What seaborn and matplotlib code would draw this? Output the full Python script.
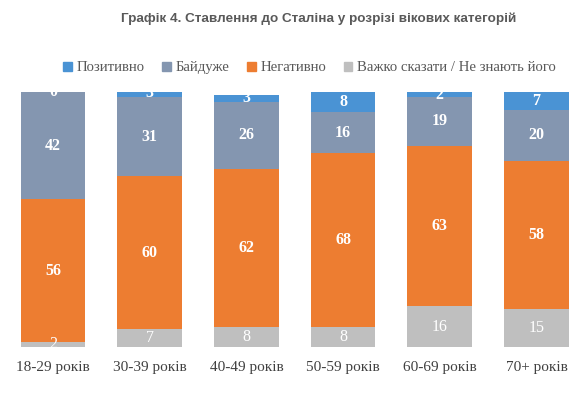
import matplotlib.pyplot as plt
import matplotlib.patches as mpatches
import numpy as np
import pandas as pd
import seaborn as sns

ages = ['18-29 років', '30-39 років', '40-49 років', '50-59 років', '60-69 років', '70+ років']
hard_to_say = [2, 7, 8, 8, 16, 15]
negative = [56, 60, 62, 68, 63, 58]
indifferent = [42, 31, 26, 16, 19, 20]
positive = [0, 3, 3, 8, 2, 7]

series_names = ['Важко сказати / Не знають його', 'Негативно', 'Байдуже', 'Позитивно']
series_vals = [hard_to_say, negative, indifferent, positive]
colors = ['#bfbfbf', '#ed7d31', '#8496b0', '#4a93d4']

sns.set_theme(style='white')
plt.rcParams['font.family'] = ['Liberation Serif', 'DejaVu Serif']

fig = plt.figure(figsize=[5.86, 3.97], dpi=100)
ax = fig.add_axes([0.008, 0.126, 0.99, 0.642])

bottom = np.zeros(len(ages))
for name, vals, col in zip(series_names, series_vals, colors):
    df = pd.DataFrame({'age': ages, 'value': vals})
    sns.barplot(data=df, x='age', y='value', order=ages, color=col, width=0.67,
                saturation=1, bottom=bottom.copy(), linewidth=0, ax=ax)
    bold = name != series_names[0]
    mids = bottom + np.array(vals) / 2
    for i, v in enumerate(vals):
        t = ax.text(i, mids[i], str(v), ha='center', va='center', color='white',
                    fontsize=11.5, fontweight='bold' if bold else 'normal')
        t.set_clip_path(ax.patch)
    bottom += np.array(vals)

ax.set_ylim(0, 100)
ax.set_xlim(-0.5, len(ages) - 0.5)
ax.set_ylabel('')
ax.set_xlabel('')
ax.set_yticks([])
ax.tick_params(axis='x', length=0, pad=10, labelsize=11, labelcolor='#404040')
sns.despine(ax=ax, left=True, bottom=True)

handles = [mpatches.Patch(color=c, label=n) for n, c in zip(series_names[::-1], colors[::-1])]
fig.legend(handles=handles, loc='center', bbox_to_anchor=(0.528, 0.829), ncol=4, frameon=False,
           fontsize=10.6, handlelength=0.6, handleheight=0.6, handletextpad=0.3, columnspacing=1.2,
           labelcolor='#595959')

fig.text(0.543, 0.952, 'Графік 4. Ставлення до Сталіна у розрізі вікових категорій',
         ha='center', va='center', fontsize=9.7, fontweight='bold', color='#595959',
         family=['Liberation Sans', 'DejaVu Sans'])

fig.savefig('out.png', dpi=100)
